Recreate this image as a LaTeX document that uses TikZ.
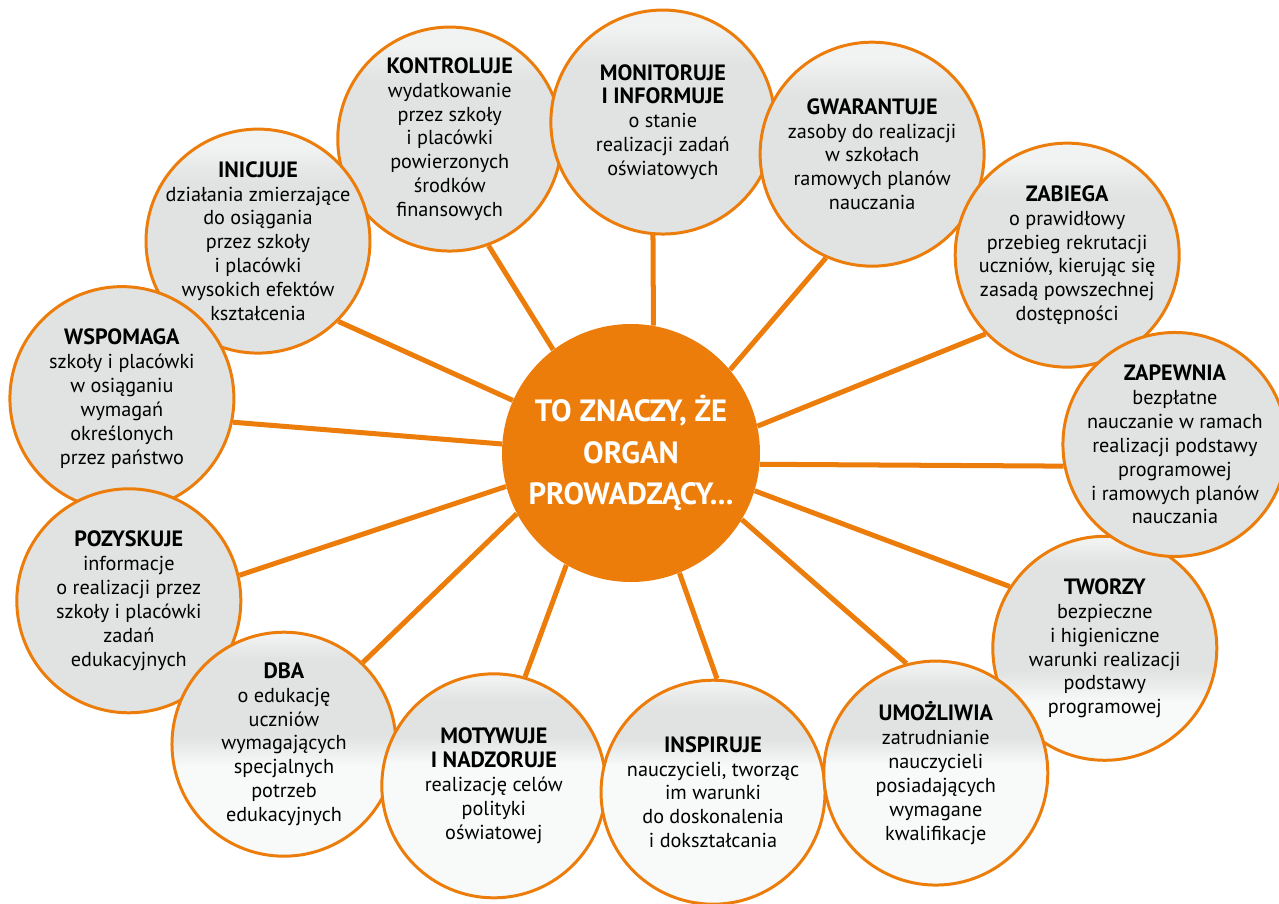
\documentclass[tikz,border=0pt]{standalone}
\usepackage{fontspec}
\setmainfont{PT Sans}
\usetikzlibrary{backgrounds}
\definecolor{tangerine}{HTML}{EC7D0A}
\definecolor{stonegray}{HTML}{E0E3E2}
\definecolor{frostwhite}{HTML}{F1F2F2}
\definecolor{snowwhite}{HTML}{F8F9F9}
\pgfdeclareverticalshading{grasstop}{100bp}{color(0bp)=(stonegray); color(63bp)=(stonegray); color(71bp)=(frostwhite); color(100bp)=(frostwhite)}
\newcommand\meadow[3]{\pgfdeclareverticalshading{#1}{100bp}{color(0bp)=(snowwhite); color(#2bp)=(snowwhite); color(#3bp)=(stonegray); color(69bp)=(stonegray); color(74bp)=(frostwhite); color(100bp)=(frostwhite)}}
\meadow{meadowtwo}{38}{45}
\meadow{meadowumo}{52}{58}
\meadow{meadowins}{56}{62}
\meadow{meadowmot}{55}{61}
\meadow{meadowdba}{45}{52}
\newcommand\verbhead[1]{{\fontsize{12.6}{13.6}\selectfont\bfseries #1}}

\begin{document}
\begin{tikzpicture}[
		organ/.style={circle,fill=tangerine,text=white,minimum size=5.16cm,inner sep=-1cm,align=center,font=\fontsize{17.5}{23.5}\selectfont\bfseries},
		task/.style={circle,draw=tangerine,line width=1.7pt,fill=stonegray,minimum size=4.48cm,inner sep=-1cm,align=center,font=\fontsize{11.5}{13.6}\selectfont},
		spoke/.style={draw=tangerine,line width=2.85pt}]
	\useasboundingbox (-12.62,-9.0) rectangle (12.96,9.06);
	\node[organ] (hub) {TO ZNACZY, ŻE\\ORGAN\\PROWADZĄCY...};
		\node[task,shading=grasstop] (kon) at (120:7.25) {\verbhead{KONTROLUJE}\\wydatkowanie\\przez szkoły\\i placówki\\powierzonych\\środków\\finansowych};
		\node[task,shading=grasstop] (ini) at (150.4:8.58) {\verbhead{INICJUJE}\\działania zmierzające\\do osiągania\\przez szkoły\\i placówki\\wysokich efektów\\kształcenia};
		\node[task] (wsp) at (173.9:10.24) {\verbhead{WSPOMAGA}\\szkoły i placówki\\w osiąganiu\\wymagań\\określonych\\przez państwo};
		\node[task] (poz) at (-163.6:10.47) {\verbhead{POZYSKUJE}\\informacje\\o realizacji przez\\szkoły i placówki\\zadań\\edukacyjnych};
		\node[task,shading=meadowdba] (dba) at (-140:9.06) {\verbhead{DBA}\\o edukację\\uczniów\\wymagających\\specjalnych\\potrzeb\\edukacyjnych};
		\node[task,shading=meadowmot] (mot) at (-112.4:7.2) {\verbhead{MOTYWUJE}\\\verbhead{I NADZORUJE}\\realizację celów\\polityki\\oświatowej};
		\node[task,shading=meadowins] (ins) at (-76.4:6.98) {\verbhead{INSPIRUJE}\\nauczycieli, tworząc\\im warunki\\do doskonalenia\\i dokształcania};
		\node[task,shading=meadowtwo] (two) at (-22.4:10.25) {\verbhead{TWORZY}\\bezpieczne\\i higieniczne\\warunki realizacji\\podstawy\\programowej};
		\node[task,shading=meadowumo] (umo) at (-46.4:8.84) {\verbhead{UMOŻLIWIA}\\zatrudnianie\\nauczycieli\\posiadających\\wymagane\\kwalifikacje};
		\node[task,shading=grasstop] (mon) at (84.5:6.65) {\verbhead{MONITORUJE}\\\verbhead{I INFORMUJE}\\o stanie\\realizacji zadań\\oświatowych};
		\node[task,shading=grasstop] (gwa) at (51.1:7.68) {\verbhead{GWARANTUJE}\\zasoby do realizacji\\w szkołach\\ramowych planów\\nauczania};
		\node[task,shading=grasstop] (zab) at (24.4:9.58) {\verbhead{ZABIEGA}\\o prawidłowy\\przebieg rekrutacji\\uczniów, kierując się\\zasadą powszechnej\\dostępności};
		\node[task] (zap) at (0.9:10.88) {\verbhead{ZAPEWNIA}\\bezpłatne\\nauczanie w ramach\\realizacji podstawy\\programowej\\i ramowych planów\\nauczania};
	\begin{pgfonlayer}{background}
		\draw[spoke] (hub.127) -- (kon.-70);
		\draw[spoke] (hub.80) -- (mon.-95);
		\draw[spoke] (hub.40) -- (gwa.-114);
		\draw[spoke] (hub.12) -- (zab.-136);
		\draw[spoke] (hub.-5) -- (zap.-169);
		\draw[spoke] (hub.-17) -- (two.147);
		\draw[spoke] (hub.-31) -- (umo.105);
		\draw[spoke] (hub.-68) -- (ins.88);
		\draw[spoke] (hub.-120) -- (mot.74);
		\draw[spoke] (hub.-152) -- (dba.46);
		\draw[spoke] (hub.-165) -- (poz.13);
		\draw[spoke] (hub.176) -- (wsp.-12);
		\draw[spoke] (hub.156) -- (ini.-45);
	\end{pgfonlayer}
\end{tikzpicture}
\end{document}
